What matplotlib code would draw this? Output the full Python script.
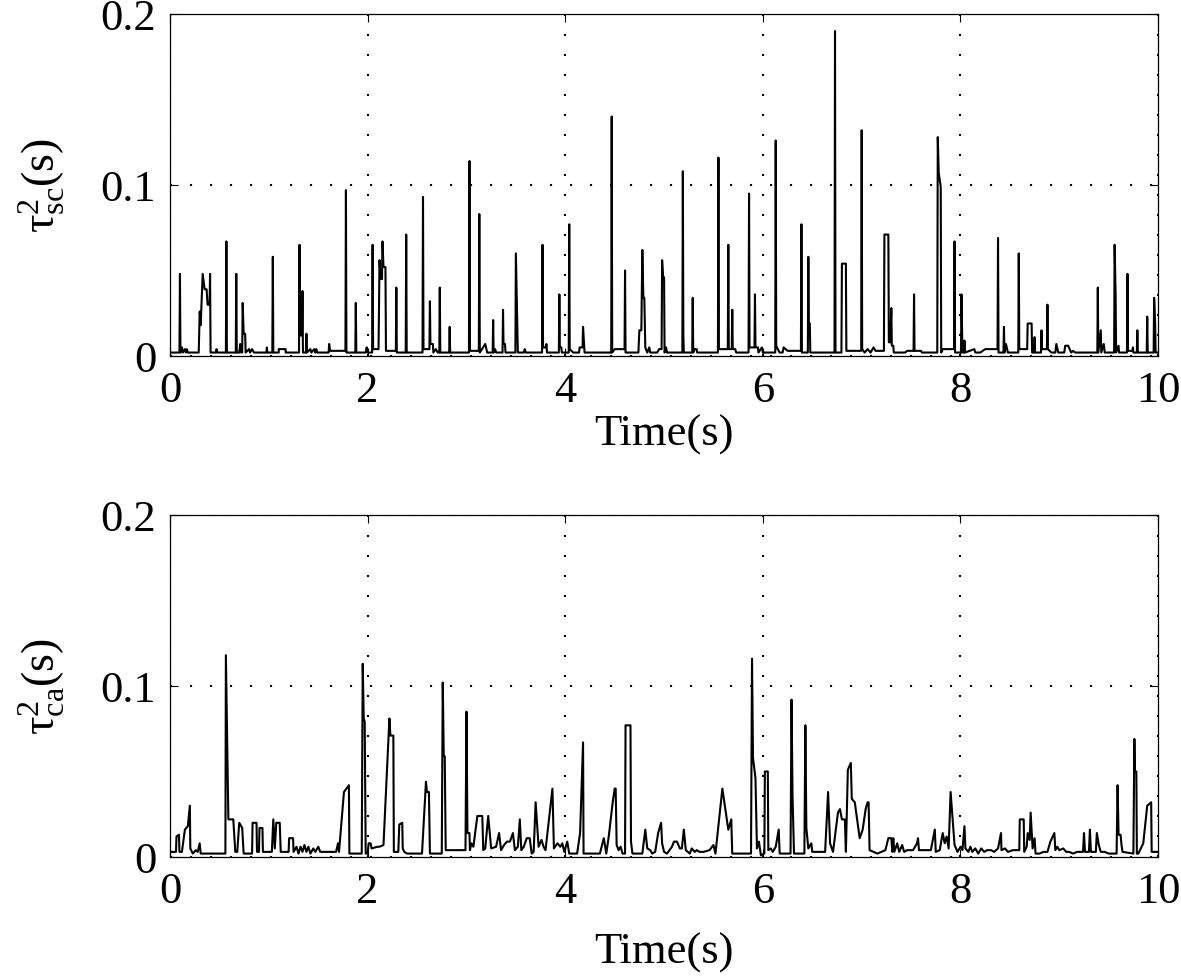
import numpy as np
import matplotlib
matplotlib.use("Agg")
import matplotlib.pyplot as plt

# ==========================================
# data: (time [s], value [s^2]) vertices
# ==========================================
sc_points = [
    (0.00, 0.002), (0.095, 0.002), (0.10, 0.048), (0.105, 0.002), (0.12, 0.005), (0.13, 0.002),
    (0.15, 0.004), (0.16, 0.002), (0.17, 0.004), (0.18, 0.002), (0.29, 0.002), (0.30, 0.026),
    (0.31, 0.018), (0.33, 0.048), (0.35, 0.039), (0.37, 0.039), (0.38, 0.030), (0.40, 0.030),
    (0.405, 0.048), (0.41, 0.002), (0.465, 0.002), (0.47, 0.004), (0.48, 0.002), (0.565, 0.002),
    (0.57, 0.067), (0.575, 0.002), (0.665, 0.002), (0.67, 0.048), (0.675, 0.002), (0.70, 0.002),
    (0.71, 0.007), (0.72, 0.002), (0.73, 0.002), (0.735, 0.031), (0.745, 0.013), (0.76, 0.013),
    (0.765, 0.002), (0.80, 0.004), (0.81, 0.002), (0.83, 0.004), (0.85, 0.002), (0.975, 0.002),
    (0.98, 0.005), (0.985, 0.002), (1.035, 0.002), (1.04, 0.058), (1.045, 0.002), (1.10, 0.002),
    (1.10, 0.004), (1.17, 0.004), (1.17, 0.002), (1.305, 0.002), (1.31, 0.065), (1.315, 0.012),
    (1.335, 0.012), (1.34, 0.038), (1.345, 0.002), (1.375, 0.002), (1.38, 0.013), (1.385, 0.002),
    (1.42, 0.004), (1.43, 0.002), (1.46, 0.004), (1.47, 0.002), (1.48, 0.004), (1.49, 0.002),
    (1.605, 0.002), (1.61, 0.007), (1.62, 0.003), (1.775, 0.003), (1.78, 0.097), (1.785, 0.002),
    (1.875, 0.002), (1.88, 0.031), (1.885, 0.002), (1.98, 0.002), (1.99, 0.005), (2.00, 0.002),
    (2.045, 0.002), (2.05, 0.065), (2.055, 0.004), (2.11, 0.004), (2.12, 0.056), (2.13, 0.045),
    (2.145, 0.045), (2.15, 0.067), (2.16, 0.052), (2.18, 0.052), (2.185, 0.003), (2.285, 0.003),
    (2.29, 0.040), (2.295, 0.002), (2.385, 0.002), (2.39, 0.071), (2.395, 0.002), (2.555, 0.002),
    (2.56, 0.093), (2.565, 0.004), (2.625, 0.004), (2.63, 0.032), (2.635, 0.007), (2.66, 0.007),
    (2.665, 0.002), (2.69, 0.004), (2.71, 0.002), (2.725, 0.002), (2.73, 0.040), (2.735, 0.002),
    (2.825, 0.002), (2.83, 0.017), (2.835, 0.002), (3.025, 0.002), (3.03, 0.114), (3.035, 0.003),
    (3.125, 0.003), (3.13, 0.083), (3.135, 0.002), (3.19, 0.007), (3.21, 0.002), (3.265, 0.002),
    (3.27, 0.021), (3.275, 0.002), (3.29, 0.004), (3.30, 0.002), (3.365, 0.002), (3.37, 0.027),
    (3.375, 0.007), (3.39, 0.007), (3.395, 0.002), (3.495, 0.002), (3.50, 0.060), (3.51, 0.032),
    (3.52, 0.002), (3.58, 0.002), (3.59, 0.004), (3.60, 0.002), (3.765, 0.002), (3.77, 0.065),
    (3.775, 0.005), (3.80, 0.005), (3.81, 0.007), (3.815, 0.002), (3.935, 0.002), (3.94, 0.036),
    (3.945, 0.005), (3.96, 0.005), (3.965, 0.002), (4.035, 0.002), (4.04, 0.077), (4.045, 0.004),
    (4.08, 0.002), (4.14, 0.002), (4.145, 0.005), (4.175, 0.005), (4.18, 0.017), (4.19, 0.007),
    (4.195, 0.002), (4.465, 0.002), (4.47, 0.140), (4.475, 0.002), (4.50, 0.004), (4.60, 0.004),
    (4.605, 0.050), (4.61, 0.002), (4.74, 0.002), (4.75, 0.015), (4.77, 0.015), (4.78, 0.062),
    (4.79, 0.034), (4.80, 0.034), (4.81, 0.005), (4.83, 0.002), (4.85, 0.005), (4.86, 0.002),
    (4.93, 0.002), (4.95, 0.004), (4.975, 0.004), (4.98, 0.056), (4.99, 0.046), (5.00, 0.046),
    (5.005, 0.002), (5.02, 0.005), (5.03, 0.002), (5.185, 0.002), (5.19, 0.108), (5.195, 0.012),
    (5.20, 0.002), (5.285, 0.002), (5.29, 0.034), (5.295, 0.002), (5.31, 0.004), (5.33, 0.004),
    (5.335, 0.002), (5.545, 0.002), (5.55, 0.116), (5.555, 0.004), (5.645, 0.004), (5.65, 0.065),
    (5.655, 0.004), (5.685, 0.004), (5.69, 0.027), (5.695, 0.004), (5.72, 0.004), (5.73, 0.002),
    (5.855, 0.002), (5.86, 0.095), (5.865, 0.005), (5.915, 0.005), (5.92, 0.036), (5.925, 0.005),
    (5.95, 0.005), (5.955, 0.002), (5.99, 0.005), (6.00, 0.002), (6.125, 0.002), (6.13, 0.126),
    (6.135, 0.006), (6.15, 0.004), (6.17, 0.002), (6.20, 0.002), (6.21, 0.005), (6.25, 0.003),
    (6.385, 0.003), (6.39, 0.077), (6.395, 0.002), (6.455, 0.002), (6.46, 0.058), (6.465, 0.019),
    (6.475, 0.019), (6.48, 0.002), (6.725, 0.002), (6.73, 0.190), (6.735, 0.002), (6.795, 0.002),
    (6.80, 0.054), (6.84, 0.054), (6.845, 0.003), (6.995, 0.003), (7.00, 0.132), (7.005, 0.004),
    (7.03, 0.002), (7.06, 0.004), (7.09, 0.002), (7.12, 0.005), (7.14, 0.003), (7.225, 0.003),
    (7.23, 0.071), (7.27, 0.071), (7.275, 0.008), (7.29, 0.008), (7.30, 0.028), (7.305, 0.006),
    (7.32, 0.006), (7.325, 0.002), (7.44, 0.002), (7.46, 0.003), (7.525, 0.003), (7.53, 0.036),
    (7.535, 0.003), (7.60, 0.003), (7.61, 0.002), (7.765, 0.002), (7.77, 0.128), (7.78, 0.107),
    (7.80, 0.099), (7.805, 0.002), (7.82, 0.004), (7.935, 0.004), (7.94, 0.067), (7.945, 0.002),
    (8.005, 0.002), (8.01, 0.036), (8.02, 0.002), (8.035, 0.002), (8.04, 0.009), (8.045, 0.002),
    (8.14, 0.004), (8.15, 0.002), (8.20, 0.002), (8.25, 0.004), (8.375, 0.004), (8.38, 0.069),
    (8.385, 0.002), (8.435, 0.002), (8.44, 0.017), (8.445, 0.002), (8.46, 0.007), (8.48, 0.002),
    (8.585, 0.002), (8.59, 0.060), (8.595, 0.004), (8.675, 0.004), (8.68, 0.019), (8.72, 0.019),
    (8.725, 0.002), (8.745, 0.002), (8.75, 0.011), (8.755, 0.002), (8.815, 0.002), (8.82, 0.015),
    (8.825, 0.004), (8.875, 0.004), (8.88, 0.030), (8.885, 0.004), (8.92, 0.002), (8.96, 0.002),
    (8.97, 0.007), (8.99, 0.002), (9.05, 0.002), (9.06, 0.006), (9.09, 0.006), (9.12, 0.002),
    (9.14, 0.003), (9.16, 0.002), (9.385, 0.002), (9.39, 0.040), (9.395, 0.002), (9.42, 0.015),
    (9.425, 0.002), (9.45, 0.007), (9.46, 0.002), (9.555, 0.002), (9.56, 0.065), (9.57, 0.036),
    (9.575, 0.002), (9.60, 0.006), (9.605, 0.002), (9.685, 0.002), (9.69, 0.048), (9.695, 0.003),
    (9.74, 0.003), (9.745, 0.005), (9.75, 0.002), (9.785, 0.002), (9.79, 0.015), (9.795, 0.002),
    (9.885, 0.002), (9.89, 0.023), (9.895, 0.002), (9.955, 0.002), (9.96, 0.034), (9.97, 0.019),
    (9.975, 0.002), (10.0, 0.002),
]

ca_points = [
    (0.00, 0.003), (0.06, 0.003), (0.065, 0.012), (0.09, 0.013), (0.095, 0.003), (0.12, 0.003),
    (0.15, 0.016), (0.18, 0.018), (0.20, 0.030), (0.205, 0.005), (0.23, 0.002), (0.26, 0.004),
    (0.28, 0.003), (0.30, 0.008), (0.31, 0.002), (0.56, 0.002), (0.565, 0.118), (0.58, 0.059),
    (0.59, 0.022), (0.64, 0.022), (0.66, 0.003), (0.68, 0.003), (0.70, 0.020), (0.73, 0.017),
    (0.745, 0.002), (0.83, 0.002), (0.835, 0.020), (0.875, 0.020), (0.88, 0.003), (0.90, 0.003),
    (0.905, 0.017), (0.935, 0.017), (0.94, 0.003), (1.03, 0.003), (1.045, 0.022), (1.06, 0.005),
    (1.075, 0.020), (1.11, 0.020), (1.12, 0.003), (1.20, 0.003), (1.205, 0.011), (1.245, 0.011),
    (1.25, 0.003), (1.28, 0.006), (1.30, 0.002), (1.32, 0.006), (1.34, 0.003), (1.36, 0.007),
    (1.38, 0.003), (1.40, 0.006), (1.42, 0.002), (1.45, 0.005), (1.47, 0.003), (1.50, 0.006),
    (1.52, 0.003), (1.68, 0.003), (1.70, 0.008), (1.71, 0.003), (1.76, 0.038), (1.81, 0.042),
    (1.815, 0.002), (1.94, 0.002), (1.95, 0.113), (1.96, 0.081), (1.97, 0.079), (1.98, 0.002),
    (2.00, 0.002), (2.01, 0.008), (2.03, 0.008), (2.04, 0.005), (2.10, 0.006), (2.12, 0.006),
    (2.16, 0.007), (2.22, 0.081), (2.23, 0.071), (2.26, 0.071), (2.265, 0.003), (2.31, 0.003),
    (2.32, 0.019), (2.35, 0.020), (2.355, 0.005), (2.37, 0.003), (2.40, 0.002), (2.55, 0.002),
    (2.59, 0.044), (2.60, 0.038), (2.62, 0.038), (2.63, 0.002), (2.75, 0.002), (2.76, 0.102),
    (2.77, 0.059), (2.78, 0.059), (2.79, 0.004), (2.99, 0.004), (3.00, 0.085), (3.01, 0.014),
    (3.03, 0.014), (3.035, 0.004), (3.05, 0.008), (3.07, 0.006), (3.11, 0.024), (3.16, 0.024),
    (3.17, 0.004), (3.19, 0.005), (3.22, 0.024), (3.25, 0.005), (3.30, 0.006), (3.33, 0.014),
    (3.35, 0.004), (3.38, 0.007), (3.41, 0.009), (3.44, 0.009), (3.47, 0.014), (3.49, 0.004),
    (3.52, 0.006), (3.54, 0.022), (3.555, 0.004), (3.58, 0.006), (3.61, 0.011), (3.64, 0.011),
    (3.66, 0.002), (3.68, 0.003), (3.70, 0.032), (3.73, 0.006), (3.76, 0.010), (3.78, 0.006),
    (3.80, 0.004), (3.87, 0.040), (3.885, 0.005), (3.92, 0.008), (3.95, 0.006), (3.97, 0.008),
    (3.99, 0.003), (4.02, 0.009), (4.04, 0.002), (4.12, 0.002), (4.15, 0.014), (4.18, 0.067),
    (4.185, 0.002), (4.35, 0.002), (4.39, 0.011), (4.415, 0.002), (4.44, 0.012), (4.48, 0.032),
    (4.50, 0.040), (4.51, 0.040), (4.52, 0.007), (4.54, 0.004), (4.56, 0.006), (4.58, 0.002),
    (4.605, 0.002), (4.61, 0.077), (4.66, 0.077), (4.665, 0.009), (4.68, 0.002), (4.78, 0.002),
    (4.81, 0.016), (4.83, 0.005), (4.86, 0.004), (4.88, 0.002), (4.91, 0.003), (4.94, 0.014),
    (4.97, 0.020), (4.98, 0.008), (5.00, 0.003), (5.03, 0.002), (5.08, 0.006), (5.10, 0.009),
    (5.13, 0.009), (5.16, 0.005), (5.18, 0.005), (5.20, 0.016), (5.22, 0.004), (5.26, 0.002),
    (5.28, 0.005), (5.31, 0.003), (5.33, 0.004), (5.36, 0.003), (5.40, 0.003), (5.46, 0.004),
    (5.50, 0.007), (5.52, 0.002), (5.59, 0.040), (5.65, 0.016), (5.68, 0.022), (5.69, 0.002),
    (5.88, 0.002), (5.89, 0.116), (5.90, 0.058), (5.925, 0.046), (5.94, 0.005), (5.96, 0.009),
    (5.98, 0.001), (6.015, 0.002), (6.02, 0.050), (6.05, 0.050), (6.055, 0.004), (6.08, 0.005),
    (6.10, 0.003), (6.13, 0.006), (6.16, 0.016), (6.17, 0.002), (6.28, 0.002), (6.29, 0.092),
    (6.30, 0.036), (6.315, 0.002), (6.42, 0.002), (6.43, 0.077), (6.44, 0.017), (6.46, 0.005),
    (6.49, 0.008), (6.50, 0.003), (6.63, 0.003), (6.66, 0.038), (6.68, 0.008), (6.71, 0.003),
    (6.76, 0.026), (6.78, 0.028), (6.80, 0.022), (6.83, 0.022), (6.84, 0.003), (6.86, 0.051),
    (6.89, 0.055), (6.90, 0.034), (6.93, 0.032), (6.98, 0.011), (7.01, 0.016), (7.04, 0.028),
    (7.06, 0.032), (7.07, 0.032), (7.08, 0.004), (7.12, 0.003), (7.16, 0.002), (7.20, 0.003),
    (7.24, 0.004), (7.27, 0.011), (7.30, 0.011), (7.31, 0.003), (7.32, 0.011), (7.33, 0.003),
    (7.36, 0.008), (7.38, 0.003), (7.41, 0.007), (7.43, 0.003), (7.46, 0.004), (7.52, 0.004),
    (7.56, 0.008), (7.57, 0.011), (7.58, 0.004), (7.70, 0.004), (7.74, 0.016), (7.75, 0.003),
    (7.79, 0.004), (7.82, 0.014), (7.84, 0.008), (7.86, 0.012), (7.88, 0.005), (7.90, 0.038),
    (7.94, 0.007), (7.97, 0.003), (8.00, 0.006), (8.02, 0.004), (8.04, 0.018), (8.05, 0.005),
    (8.08, 0.003), (8.10, 0.006), (8.12, 0.003), (8.15, 0.005), (8.18, 0.002), (8.21, 0.005),
    (8.24, 0.003), (8.27, 0.004), (8.31, 0.004), (8.34, 0.003), (8.38, 0.005), (8.41, 0.014),
    (8.415, 0.004), (8.45, 0.005), (8.48, 0.003), (8.53, 0.004), (8.57, 0.004), (8.595, 0.004),
    (8.60, 0.022), (8.64, 0.022), (8.645, 0.003), (8.67, 0.006), (8.68, 0.014), (8.70, 0.010),
    (8.71, 0.026), (8.73, 0.005), (8.75, 0.011), (8.76, 0.002), (8.80, 0.002), (8.84, 0.003),
    (8.88, 0.003), (8.91, 0.009), (8.95, 0.014), (8.96, 0.004), (8.98, 0.006), (9.00, 0.004),
    (9.04, 0.005), (9.07, 0.003), (9.10, 0.003), (9.14, 0.002), (9.18, 0.003), (9.22, 0.003),
    (9.24, 0.003), (9.25, 0.014), (9.26, 0.003), (9.30, 0.003), (9.31, 0.016), (9.32, 0.003),
    (9.37, 0.003), (9.38, 0.014), (9.40, 0.007), (9.42, 0.003), (9.46, 0.003), (9.50, 0.002),
    (9.58, 0.002), (9.59, 0.042), (9.60, 0.013), (9.62, 0.013), (9.63, 0.007), (9.64, 0.003),
    (9.75, 0.002), (9.76, 0.069), (9.765, 0.050), (9.78, 0.050), (9.785, 0.002), (9.80, 0.002),
    (9.85, 0.008), (9.89, 0.030), (9.93, 0.032), (9.935, 0.003), (10.0, 0.003),
]

x_ticks = [0, 2, 4, 6, 8, 10]
y_ticks = [0, 0.1, 0.2]
y_ticklabels = ["0", "0.1", "0.2"]
x_label = "Time(s)"
y_labels = [r"τ$^{2}_{\rm sc}$(s)", r"τ$^{2}_{\rm ca}$(s)"]

# ==========================================
# style (matlab-like)
# ==========================================
plt.rcParams["font.family"] = ["Liberation Serif", "DejaVu Serif"]
plt.rcParams["mathtext.fontset"] = "custom"
plt.rcParams["mathtext.rm"] = "Liberation Serif"
plt.rcParams["mathtext.it"] = "Liberation Serif:italic"

fig = plt.figure(figsize=(11.81, 9.78), dpi=100)
ax_top = fig.add_axes([0.144, 0.635, 0.8366, 0.3497])
ax_bot = fig.add_axes([0.144, 0.1227, 0.8366, 0.3497])

for ax, pts, ylab, xpad in zip([ax_top, ax_bot], [sc_points, ca_points], y_labels, [3, 15]):
    t, v = np.array(pts).T
    ax.plot(t, v, color="black", lw=1.5)
    ax.set_xlim(0, 10)
    ax.set_ylim(0, 0.2)
    ax.set_xticks(x_ticks)
    ax.set_yticks(y_ticks)
    ax.set_yticklabels(y_ticklabels)
    ax.tick_params(direction="in", top=True, right=True, length=6, width=0.8,
                   labelsize=32, pad=10)
    ax.grid(True, linestyle=(0, (1, 8.6)), color="black", lw=1.5)
    for s in ax.spines.values():
        s.set_linewidth(0.9)
    ax.set_xlabel(x_label, fontsize=32, labelpad=xpad)
    ax.set_ylabel(ylab, fontsize=33, labelpad=24)

fig.savefig("out.png", dpi=100)
